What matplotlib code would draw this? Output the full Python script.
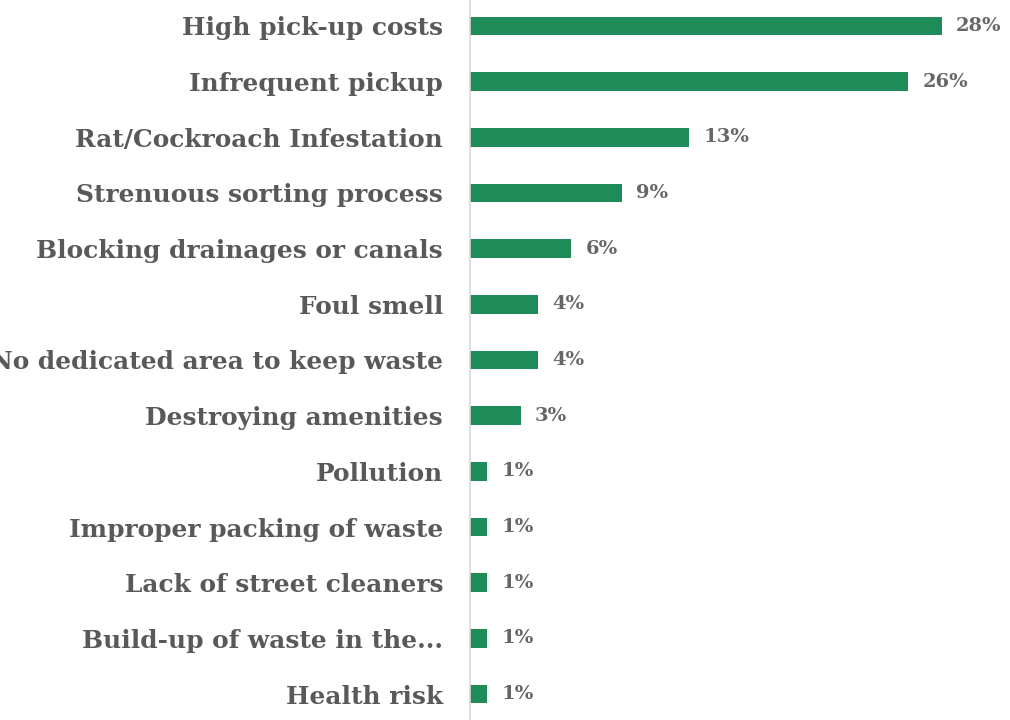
import matplotlib.pyplot as plt

issues = [
    "High pick-up costs",
    "Infrequent pickup",
    "Rat/Cockroach Infestation",
    "Strenuous sorting process",
    "Blocking drainages or canals",
    "Foul smell",
    "No dedicated area to keep waste",
    "Destroying amenities",
    "Pollution",
    "Improper packing of waste",
    "Lack of street cleaners",
    "Build-up of waste in the...",
    "Health risk",
]
shares = [28, 26, 13, 9, 6, 4, 4, 3, 1, 1, 1, 1, 1]

green = "#1f8b58"
grey_text = "#595959"

fig = plt.figure(figsize=(10.1, 7.2), dpi=100)
ax = fig.add_axes([0.4655, 0.0, 0.5345, 1.0])

ypos = list(range(len(issues)))
ax.barh(ypos, shares, height=0.33, color=green)

ax.set_xlim(0, 32.05)
ax.set_ylim(12.467, -0.467)

for y, v in zip(ypos, shares):
    ax.text(v + 0.85, y, f"{v}%", va="center", ha="left",
            fontsize=14, fontweight="bold", color="#666666",
            family="DejaVu Serif")

ax.set_yticks(ypos)
ax.set_yticklabels(issues, fontsize=17.9, fontweight="bold", color=grey_text,
                   family="DejaVu Serif", va="center_baseline")
ax.tick_params(axis="y", length=0, pad=19.5)
ax.set_xticks([])

for side in ["top", "right", "bottom"]:
    ax.spines[side].set_visible(False)
ax.spines["left"].set_color("#d9d9d9")
ax.spines["left"].set_linewidth(1.2)

fig.savefig("out.png", dpi=100)
